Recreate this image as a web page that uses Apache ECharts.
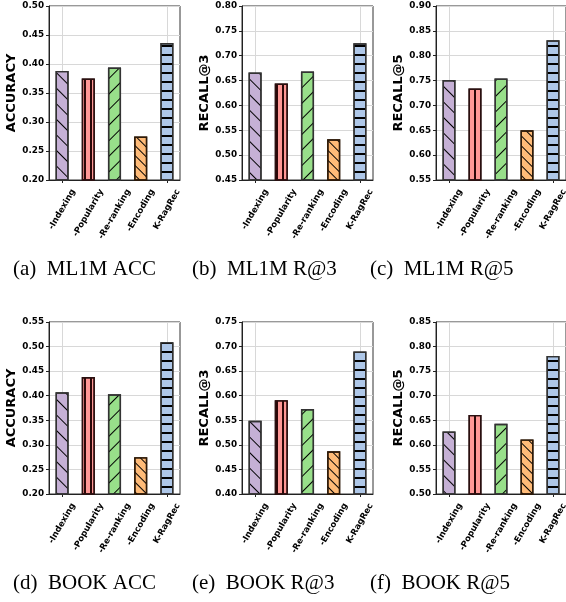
<!DOCTYPE html>
<html>
<head>
<meta charset="utf-8">
<script src="https://cdn.jsdelivr.net/npm/echarts@6/dist/echarts.min.js"></script>
<style>
html,body{margin:0;padding:0;background:#fff;}
#c{width:566px;height:602px;}
</style>
</head>
<body>
<div id="c"></div>
<script>
// ---- data ----
var categories = ['-Indexing', '-Popularity', '-Re-ranking', '-Encoding', 'K-RagRec'];
var ml1mAcc = [0.388, 0.375, 0.394, 0.275, 0.436];
var ml1mR3  = [0.666, 0.644, 0.668, 0.532, 0.725];
var ml1mR5  = [0.751, 0.734, 0.754, 0.650, 0.831];
var bookAcc = [0.407, 0.438, 0.403, 0.275, 0.509];
var bookR3  = [0.549, 0.591, 0.573, 0.487, 0.690];
var bookR5  = [0.627, 0.661, 0.643, 0.611, 0.781];
var yNames = ['ACCURACY', 'RECALL@3', 'RECALL@5', 'ACCURACY', 'RECALL@3', 'RECALL@5'];
var yMins = [0.20, 0.45, 0.55, 0.20, 0.40, 0.50];
var yMaxs = [0.50, 0.80, 0.90, 0.55, 0.75, 0.85];
var captions = ['(a)\u2002ML1M ACC', '(b)\u2002ML1M R@3', '(c)\u2002ML1M R@5',
                '(d)\u2002BOOK ACC', '(e)\u2002BOOK R@3', '(f)\u2002BOOK R@5'];
var panels = [ml1mAcc, ml1mR3, ml1mR5, bookAcc, bookR3, bookR5];

// ---- styles ----
var barColors = ['#c5b0d5', '#ff9896', '#98df8a', '#ffbb78', '#aec7e8'];
var edgeColors = ['#333333', '#2b1010', '#333333', '#2e1a08', '#333333'];
var decals = [
  {symbol: 'rect', dashArrayX: [20, 0], dashArrayY: [1, 9.5], rotation: Math.PI / 4, color: '#000'},
  {symbol: 'rect', dashArrayX: [1.3, 3.2], dashArrayY: [20, 0], rotation: 0, color: '#2b0808'},
  {symbol: 'rect', dashArrayX: [20, 0], dashArrayY: [1, 9.5], rotation: -Math.PI / 4, color: '#000'},
  {symbol: 'rect', dashArrayX: [20, 0], dashArrayY: [1, 6], rotation: Math.PI / 4, color: '#000'},
  {symbol: 'rect', dashArrayX: [20, 0], dashArrayY: [1.2, 6.5], rotation: 0, color: '#000'}
];

var gridPos = [
  {left: 49, top: 6, width: 131, height: 174},
  {left: 242, top: 6, width: 131, height: 174},
  {left: 436, top: 6, width: 131, height: 174},
  {left: 49, top: 322, width: 131, height: 172},
  {left: 242, top: 322, width: 131, height: 172},
  {left: 436, top: 322, width: 131, height: 172}
];
var capPos = [[13, 271], [192, 271], [370, 271], [13, 585], [192, 585], [370, 585]];

var FONT = 'DejaVu Sans';
var XFS = 8.5;

var grids = [], xAxes = [], yAxes = [], series = [], titles = [];
for (var i = 0; i < 6; i++) {
  grids.push(Object.assign({show: true, borderColor: '#333', borderWidth: 1, backgroundColor: 'transparent'}, gridPos[i]));
  xAxes.push({
    type: 'category', gridIndex: i, data: categories,
    axisLine: {lineStyle: {color: '#222', width: 1}},
    axisTick: {show: true, alignWithLabel: true, length: 3, lineStyle: {color: '#222'}},
    splitLine: {show: true, alignWithLabel: true, lineStyle: {color: '#d8d8d8', width: 1}},
    axisLabel: {show: false}
  });
  yAxes.push({
    type: 'value', gridIndex: i, min: yMins[i], max: yMaxs[i], interval: 0.05,
    name: yNames[i], nameLocation: 'middle', nameGap: 30,
    nameTextStyle: {fontFamily: FONT, fontWeight: 'bold', fontSize: 13, color: '#000'},
    axisLine: {show: true, lineStyle: {color: '#222', width: 1}},
    axisTick: {show: true, length: 3, lineStyle: {color: '#222'}},
    splitLine: {show: true, lineStyle: {color: '#d8d8d8', width: 1}},
    axisLabel: {fontFamily: FONT, fontWeight: 'bold', fontSize: 8.8, color: '#000', margin: 5,
      formatter: function (v) { return v.toFixed(2); }}
  });
  var vals = panels[i];
  series.push({
    type: 'bar', xAxisIndex: i, yAxisIndex: i, barWidth: '50%', z: 3,
    data: vals.map(function (v, k) {
      return {value: v, itemStyle: {color: barColors[k], borderColor: edgeColors[k], borderWidth: 1.4, decal: decals[k]}};
    })
  });
  titles.push({
    text: captions[i], left: capPos[i][0], top: capPos[i][1] - 12,
    textStyle: {fontFamily: 'Liberation Serif', fontWeight: 'normal', fontSize: 21, color: '#000'},
    padding: 0
  });
}

var chart = echarts.init(document.getElementById('c'), null, {renderer: 'canvas'});
chart.setOption({
  animation: false,
  backgroundColor: '#fff',
  title: titles,
  grid: grids,
  xAxis: xAxes,
  yAxis: yAxes,
  series: series
});

// Rotated category labels, centred under each tick (matplotlib rotation=60, ha='center')
var mctx = document.createElement('canvas').getContext('2d');
var fontStr = 'bold ' + XFS + 'px "' + FONT + '"';
mctx.font = fontStr;
var ang = Math.PI / 3;
var graphics = [];
for (var g = 0; g < 6; g++) {
  var baseY = chart.convertToPixel({yAxisIndex: g}, yMins[g]);
  categories.forEach(function (c) {
    var px = chart.convertToPixel({xAxisIndex: g}, c);
    var L = mctx.measureText(c).width;
    var h = L * Math.sin(ang) + XFS * 1.15 * Math.cos(ang);
    graphics.push({
      type: 'text', x: px, y: baseY + 7.5 + h / 2, rotation: ang, z: 10,
      style: {text: c, font: fontStr, fill: '#000', align: 'center', verticalAlign: 'middle'}
    });
  });
}
chart.setOption({graphic: graphics});
</script>
</body>
</html>
